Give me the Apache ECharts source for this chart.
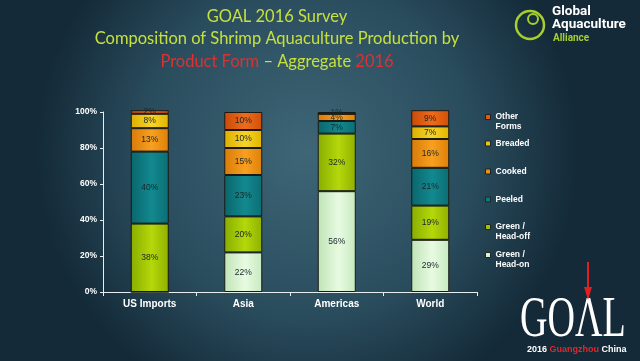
<!DOCTYPE html>
<html><head><meta charset="utf-8">
<script src="https://cdn.jsdelivr.net/npm/echarts@6/dist/echarts.min.js"></script>
<style>html,body{margin:0;padding:0;background:#1a3444;}#c{width:640px;height:361px;}</style>
</head><body><div id="c"></div>
<script>
const categories = ['US Imports', 'Asia', 'Americas', 'World'];
const seriesNames = ['Green / Head-on', 'Green / Head-off', 'Peeled', 'Cooked', 'Breaded', 'Other Forms'];
const headOn   = [0, 22, 56, 29];
const headOff  = [38, 20, 32, 19];
const peeled   = [40, 23, 7, 21];
const cooked   = [13, 15, 4, 16];
const breaded  = [8, 10, 0, 7];
const other    = [2, 10, 1, 9];
const yTicks = [0, 20, 40, 60, 80, 100];

const values = [headOn, headOff, peeled, cooked, breaded, other];
const colors = [
  ['#bfe3b6', '#e8fbe2', '#c6e9bf'],
  ['#88ad00', '#b4d80a', '#8fb000'],
  ['#0a666c', '#12898f', '#0b6e74'],
  ['#d87a08', '#f8a020', '#de800a'],
  ['#dcae00', '#f8d428', '#e0b400'],
  ['#c84a08', '#f06c1c', '#d05008']
];
const legendIcon = ['#d8f4d0', '#9cc400', '#0d7a80', '#f09010', '#f0c410', '#e05a10'];
const legendLabels = ['Green /\nHead-on', 'Green /\nHead-off', 'Peeled', 'Cooked', 'Breaded', 'Other\nForms'];

function grad(c) {
  return {type: 'linear', x: 0, y: 0, x2: 1, y2: 0, colorStops: [
    {offset: 0, color: c[0]}, {offset: 0.55, color: c[1]}, {offset: 1, color: c[2]}]};
}

const series = seriesNames.map((n, i) => ({
  name: n, type: 'bar', stack: 'all', barWidth: 38, clip: false,
  data: values[i],
  itemStyle: {color: grad(colors[i]), borderColor: '#1a1a14', borderWidth: 1},
  label: {show: true, position: 'inside', fontFamily: 'Liberation Sans', fontSize: 8.5,
    color: '#18262a', formatter: p => p.value > 0 ? p.value + '%' : ''}
}));

// legend icon centre y positions, bottom series first
const legendIconY = [256, 228, 200, 172, 144, 118];
const legends = seriesNames.map((n, i) => {
  const two = legendLabels[i].indexOf('\n') >= 0;
  const parts = legendLabels[i].split('\n');
  return {
    orient: 'vertical', left: 485, top: two ? legendIconY[i] - 15 : legendIconY[i] - 5, padding: 0,
    itemWidth: 5, itemHeight: 5, icon: 'rect', selectedMode: false, itemGap: 0,
    data: [{name: n, itemStyle: {color: legendIcon[i], borderColor: '#222', borderWidth: 1}}],
    formatter: () => two ? '{s| }\n{a|' + parts[0] + '}\n{a|' + parts[1] + '}' : '{a|' + parts[0] + '}',
    textStyle: {color: '#ffffff', rich: {
      s: {fontSize: 8, lineHeight: 10, color: 'transparent'},
      a: {color: '#ffffff', fontFamily: 'Liberation Sans', fontWeight: 'bold', fontSize: 8.5, lineHeight: 10}
    }}
  };
});

const chart = echarts.init(document.getElementById('c'), null, {renderer: 'canvas'});
chart.setOption({
  animation: false,
  backgroundColor: {type: 'radial', x: 0.48, y: 0.42, r: 0.75, colorStops: [
    {offset: 0, color: '#3e6676'}, {offset: 0.6, color: '#2a4d5e'}, {offset: 1, color: '#142a38'}]},
  title: {
    left: 272, top: 0, textAlign: 'center',
    text: '{g|GOAL 2016 Survey}\n{g|Composition of Shrimp Aquaculture Production by}\n{r|Product Form}{g| – Aggregate }{r|2016}',
    textStyle: {fontWeight: 'normal', rich: {
      g: {color: '#c6e03e', fontFamily: 'Lato', fontWeight: 'normal', fontSize: 16.5, lineHeight: 22.5},
      r: {color: '#dc3232', fontFamily: 'Lato', fontWeight: 'normal', fontSize: 16.5, lineHeight: 22.5}
    }}
  },
  legend: legends,
  grid: {left: 103, right: 163, top: 112, bottom: 69},
  xAxis: {
    type: 'category', data: categories,
    axisLine: {lineStyle: {color: '#e8eef0', width: 1}},
    axisTick: {show: true, alignWithLabel: false, length: 4, lineStyle: {color: '#e8eef0'}},
    axisLabel: {color: '#ffffff', fontFamily: 'Liberation Sans', fontWeight: 'bold', fontSize: 10, margin: 7}
  },
  yAxis: {
    type: 'value', min: yTicks[0], max: yTicks[yTicks.length - 1], interval: 20,
    axisLine: {show: true, lineStyle: {color: '#e8eef0'}},
    axisTick: {show: true, length: 3, lineStyle: {color: '#e8eef0'}},
    splitLine: {show: false},
    axisLabel: {color: '#ffffff', fontFamily: 'Liberation Sans', fontWeight: 'bold', fontSize: 8.5, margin: 6,
      formatter: v => v + '%'}
  },
  series: series,
  graphic: [
    {type: 'circle', shape: {cx: 530, cy: 25, r: 14}, style: {fill: 'none', stroke: '#a6cf2e', lineWidth: 2.5}},
    {type: 'circle', shape: {cx: 533, cy: 19, r: 5}, style: {fill: 'none', stroke: '#a6cf2e', lineWidth: 2}},
    {type: 'text', left: 552, top: 5, style: {text: 'Global\nAquaculture', fill: '#ffffff', font: 'bold 13.5px Roboto', lineHeight: 13}},
    {type: 'text', left: 553, top: 33, style: {text: 'Alliance', fill: '#a6cf2e', font: 'bold 10px Roboto'}},
    {type: 'text', x: 520, y: 293, scaleX: 0.68, style: {text: 'GOΛL', fill: '#ffffff', font: '56px "Liberation Serif"'}},
    {type: 'line', shape: {x1: 588, y1: 262, x2: 588, y2: 298}, style: {stroke: '#e02020', lineWidth: 2}},
    {type: 'polygon', shape: {points: [[584, 287], [592, 287], [588, 300]]}, style: {fill: '#e02020'}},
    {type: 'text', left: 527, top: 345, style: {
      text: '{w|2016 }{r|Guangzhou}{w| China}',
      rich: {w: {fill: '#ffffff', font: 'bold 9px "Liberation Sans"'}, r: {fill: '#e02828', font: 'bold 9px "Liberation Sans"'}}}}
  ]
});
</script></body></html>
